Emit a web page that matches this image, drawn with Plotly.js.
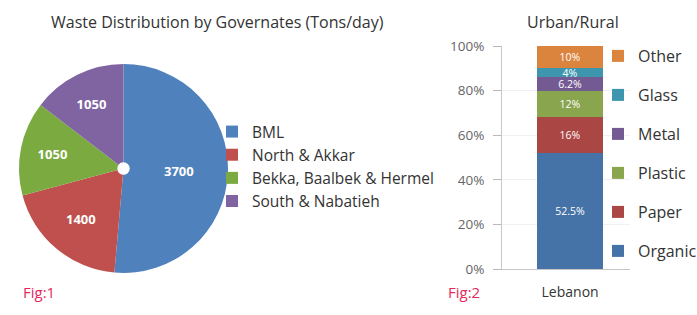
<!DOCTYPE html>
<html>
<head>
<meta charset="utf-8">
<script src="https://cdn.plot.ly/plotly-3.0.1.min.js"></script>
<style>html,body{margin:0;padding:0;background:#fff;}#chart{width:697px;height:315px;}</style>
</head>
<body>
<div id="chart"></div>
<script>
// Fig 1 – pie
const regions = ['BML', 'North & Akkar', 'Bekka, Baalbek & Hermel', 'South & Nabatieh'];
const tonsPerDay = [3700, 1400, 1050, 1050];
const regionColors = ['#4f81bd', '#c0504d', '#7aaa40', '#8064a2'];

// Fig 2 – stacked bar
const country = ['Lebanon'];
const materials = ['Organic', 'Paper', 'Plastic', 'Metal', 'Glass', 'Other'];
const shares = [52.5, 16, 12, 6.2, 4, 10];
const shareLabels = ['52.5%', '16%', '12%', '6.2%', '4%', '10%'];
const materialColors = ['#4572a7', '#aa4643', '#89a54e', '#735a92', '#3d96ae', '#db843d'];
const yTicks = [0, 20, 40, 60, 80, 100];

const FONT = 'Open Sans, Noto Sans, sans-serif';

const traces = [];
traces.push({
  type: 'pie',
  labels: regions,
  values: tonsPerDay,
  sort: false,
  direction: 'clockwise',
  rotation: 0,
  hole: 0.06,
  marker: {colors: regionColors, line: {width: 0}},
  textinfo: 'value',
  textposition: 'inside',
  insidetextorientation: 'horizontal',
  textfont: {family: FONT, size: 13, color: '#ffffff', weight: 'bold'},
  domain: {x: [19/697, 228/697], y: [1 - 273/315, 1 - 64/315]},
  legend: 'legend2',
  hoverinfo: 'none'
});

materials.forEach((m, i) => {
  traces.push({
    type: 'bar',
    name: m,
    x: country,
    y: [shares[i]],
    text: [shareLabels[i]],
    textposition: 'inside',
    insidetextanchor: 'middle',
    constraintext: 'none',
    textfont: {family: FONT, size: 10.5, color: '#ffffff'},
    marker: {color: materialColors[i], line: {width: 0}},
    width: 0.485,
    legendgroup: m,
    legendrank: materials.length - i,
    xaxis: 'x',
    yaxis: 'y',
    hoverinfo: 'none'
  });
});

const layout = {
  width: 697,
  height: 315,
  margin: {l: 0, r: 0, t: 0, b: 0, autoexpand: false},
  paper_bgcolor: '#ffffff',
  plot_bgcolor: 'rgba(0,0,0,0)',
  font: {family: FONT, color: '#333333'},
  barmode: 'stack',
  barnorm: 'percent',
  showlegend: true,
  xaxis: {
    domain: [502/697, 630/697],
    type: 'category',
    range: [-0.5, 0.44],
    autorange: false,
    showline: true,
    linecolor: '#c6c6c6',
    linewidth: 1,
    ticks: '',
    showgrid: false,
    zeroline: false,
    tickfont: {family: FONT, size: 14, color: '#333333'},
    ticklabelstandoff: 10,
    fixedrange: true
  },
  yaxis: {
    domain: [1 - 269/315, 1 - 46/315],
    range: [0, 100],
    tickvals: yTicks,
    ticktext: yTicks.map(v => v + '%'),
    ticks: 'outside',
    ticklen: 8,
    tickcolor: '#b8b8b8',
    showline: true,
    linecolor: '#c6c6c6',
    showgrid: true,
    gridcolor: '#f0f0f0',
    zeroline: false,
    tickfont: {family: FONT, size: 13.5, color: '#666666'},
    ticklabelstandoff: 6,
    fixedrange: true
  },
  yaxis2: {
    overlaying: 'y',
    anchor: 'x',
    side: 'left',
    range: [0, 100],
    tickvals: yTicks.slice(0, 5),
    ticks: 'inside',
    ticklen: 9,
    tickcolor: '#b8b8b8',
    showticklabels: false,
    showgrid: false,
    showline: false,
    zeroline: false,
    fixedrange: true
  },
  legend: {
    x: 598/697,
    xanchor: 'left',
    y: 1 - 39/315,
    yanchor: 'top',
    traceorder: 'grouped',
    tracegroupgap: 15.2,
    font: {family: FONT, size: 16, color: '#333333'},
    bgcolor: 'rgba(0,0,0,0)',
    itemclick: false,
    itemdoubleclick: false
  },
  legend2: {
    x: 212/697,
    xanchor: 'left',
    y: 1 - 115/315,
    yanchor: 'top',
    font: {family: FONT, size: 15.5, color: '#333333'},
    bgcolor: 'rgba(0,0,0,0)',
    itemclick: false,
    itemdoubleclick: false
  },
  annotations: [
    {text: 'Waste Distribution by Governates (Tons/day)', xref: 'paper', yref: 'paper',
     x: 218/697, y: 1 - 22/315, xanchor: 'center', yanchor: 'middle', showarrow: false,
     font: {family: FONT, size: 16, color: '#333333'}},
    {text: 'Urban/Rural', xref: 'paper', yref: 'paper',
     x: 573/697, y: 1 - 22/315, xanchor: 'center', yanchor: 'middle', showarrow: false,
     font: {family: FONT, size: 16, color: '#333333'}},
    {text: 'Fig:1', xref: 'paper', yref: 'paper',
     x: 21/697, y: 1 - 292/315, xanchor: 'left', yanchor: 'middle', showarrow: false,
     font: {family: FONT, size: 15, color: '#e2285c'}},
    {text: 'Fig:2', xref: 'paper', yref: 'paper',
     x: 446/697, y: 1 - 292/315, xanchor: 'left', yanchor: 'middle', showarrow: false,
     font: {family: FONT, size: 15, color: '#e2285c'}}
  ]
};

Plotly.newPlot('chart', traces, layout, {staticPlot: true, displayModeBar: false});
</script>
</body>
</html>
